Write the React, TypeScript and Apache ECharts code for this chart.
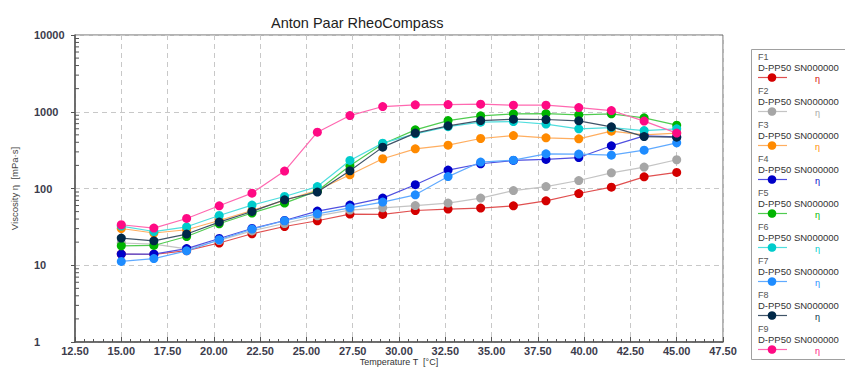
import React, { useEffect, useRef } from 'react';
import * as echarts from 'echarts';

const FONT = '"Liberation Sans", Arial, sans-serif';

const temperatures = [15.0, 16.76, 18.53, 20.29, 22.06, 23.82, 25.59, 27.35, 29.12, 30.88, 32.65, 34.41, 36.18, 37.94, 39.71, 41.47, 43.24, 45.0];

const seriesNames = ['F1', 'F2', 'F3', 'F4', 'F5', 'F6', 'F7', 'F8', 'F9'];

const f1 = [14, 13.8, 15.5, 19.5, 25.7, 32, 38, 46.4, 45.9, 51.7, 53.9, 55.6, 59.5, 69, 86, 104, 142, 162];
const f2 = [19.5, 18.8, 16.3, 21, 28, 35, 44, 52.3, 56, 60, 64.5, 75, 94, 106, 127, 160, 190, 237];
const f3 = [30.1, 26.3, 29, 38.3, 51.7, 70, 95, 151, 244, 329, 367, 448, 490, 457, 444, 558, 500, 527];
const f4 = [14, 14, 16.5, 22.3, 30.1, 38.3, 50.8, 60.8, 75, 112, 174, 210, 232, 239, 253, 360, 485, 470];
const f5 = [17.9, 18.1, 23.7, 34.7, 47.9, 64.5, 93, 198, 380, 581, 768, 885, 939, 948, 912, 939, 833, 669];
const f6 = [32.4, 27.5, 31.7, 44.5, 60.8, 78.7, 106, 232, 390, 515, 640, 732, 746, 690, 599, 620, 569, 599];
const f7 = [11.2, 12.2, 15.4, 21.5, 29.6, 38, 46.8, 56, 66.5, 82.8, 143, 221, 234, 283, 281, 272, 316, 394];
const f8 = [22.6, 20.8, 25.5, 36.5, 50.2, 71.3, 89.8, 170, 346, 527, 655, 768, 801, 792, 761, 636, 475, 467];
const f9 = [33.7, 30.5, 40.7, 59.5, 87, 168.6, 542, 892, 1169, 1230, 1242, 1256, 1219, 1219, 1135, 1037, 755, 527];

const allSeries = [f1, f2, f3, f4, f5, f6, f7, f8, f9];

const markerColors = ['#d40000', '#a6a6a6', '#ff8a00', '#0000c8', '#00b400', '#00cccc', '#1e8cff', '#002848', '#ff0a84'];
const lineColors = ['#e05050', '#c4c4c4', '#ffae60', '#5050e0', '#50cc50', '#50dede', '#60aaff', '#405468', '#ff68b0'];

const legendSubtitle = 'D-PP50 SN000000';

const yMinorTickValues = [
  2, 3, 4, 5, 6, 7, 8, 9,
  20, 30, 40, 50, 60, 70, 80, 90,
  200, 300, 400, 500, 600, 700, 800, 900,
  2000, 3000, 4000, 5000, 6000, 7000, 8000, 9000,
];

export default function App() {
  const ref = useRef<HTMLDivElement>(null);

  useEffect(() => {
    const chart = echarts.init(ref.current!, null, { renderer: 'svg' });

    const lineSeries = allSeries.map((vals, i) => ({
      name: seriesNames[i],
      type: 'line',
      data: temperatures.map((t, j) => [t, vals[j]]),
      symbol: 'circle',
      symbolSize: 9,
      itemStyle: { color: markerColors[i] },
      lineStyle: { color: lineColors[i], width: 1.2 },
      z: 3 + i,
    }));

    const minorTickSeries = {
      type: 'custom',
      silent: true,
      clip: false,
      z: 2,
      data: yMinorTickValues.map((v) => [12.5, v]),
      renderItem: (params: any, api: any) => {
        const p = api.coord([api.value(0), api.value(1)]);
        return {
          type: 'line',
          shape: { x1: p[0], y1: p[1], x2: p[0] + 4, y2: p[1] },
          style: { stroke: '#555', lineWidth: 1 },
        };
      },
    };

    const graphics: any[] = [
      {
        type: 'rect',
        shape: { x: 751.5, y: 49.5, width: 100, height: 310 },
        style: { fill: '#fff', stroke: '#a0a0a0', lineWidth: 1 },
        z: 0,
      },
    ];
    seriesNames.forEach((name, i) => {
      const by = 59 + i * 34;
      graphics.push(
        {
          type: 'text',
          x: 758,
          y: by - 2,
          style: { text: name, fontSize: 9, fill: '#555', fontFamily: FONT, verticalAlign: 'middle' },
        },
        {
          type: 'text',
          x: 758,
          y: by + 8.5,
          style: { text: legendSubtitle, fontSize: 9.5, fill: '#333', fontFamily: FONT, verticalAlign: 'middle' },
        },
        {
          type: 'line',
          shape: { x1: 758, y1: by + 18.5, x2: 787, y2: by + 18.5 },
          style: { stroke: lineColors[i], lineWidth: 1.2 },
        },
        {
          type: 'circle',
          shape: { cx: 772, cy: by + 18.5, r: 4.3 },
          style: { fill: markerColors[i] },
        },
        {
          type: 'text',
          x: 815,
          y: by + 19.5,
          style: { text: 'η', fontSize: 9, fill: markerColors[i], fontFamily: FONT, verticalAlign: 'middle' },
        }
      );
    });

    chart.setOption({
      animation: false,
      backgroundColor: '#fff',
      textStyle: { fontFamily: FONT },
      title: {
        text: 'Anton Paar RheoCompass',
        left: 266,
        top: 10,
        textStyle: { fontSize: 14.5, fontWeight: 'normal', color: '#222', fontFamily: FONT },
      },
      grid: {
        left: 75,
        right: 122,
        top: 35,
        bottom: 26,
        show: true,
        borderColor: '#666',
        borderWidth: 1,
        containLabel: false,
        outerBoundsMode: 'none',
      },
      xAxis: {
        type: 'value',
        min: 12.5,
        max: 47.5,
        interval: 2.5,
        name: 'Temperature T  [°C]',
        nameLocation: 'middle',
        nameGap: 15.5,
        nameMoveOverlap: false,
        nameTextStyle: { fontSize: 9, color: '#333', fontFamily: FONT, verticalAlign: 'top' },
        axisLine: { show: true, onZero: false, lineStyle: { color: '#555', width: 1.5 } },
        axisTick: { show: true, inside: true, length: 5, lineStyle: { color: '#555' } },
        minorTick: { show: true, splitNumber: 5, length: 3, lineStyle: { color: '#555' } },
        axisLabel: {
          formatter: (v: number) => v.toFixed(2),
          fontSize: 11,
          fontWeight: 'bold',
          color: '#3c3c4c',
          margin: 3,
          fontFamily: FONT,
        },
        splitLine: { show: true, lineStyle: { color: '#c8c8c8', type: [5, 4], width: 1 } },
      },
      yAxis: {
        type: 'log',
        logBase: 10,
        min: 1,
        max: 10000,
        name: 'Viscosity η  [mPa·s]',
        nameLocation: 'middle',
        nameGap: 56,
        nameMoveOverlap: false,
        nameTextStyle: { fontSize: 9.5, color: '#444', fontFamily: FONT },
        axisLine: { show: true, lineStyle: { color: '#555', width: 1.5 } },
        axisTick: { show: true, length: 4, lineStyle: { color: '#555' } },
        axisLabel: {
          formatter: (v: number) => String(Math.round(v)),
          fontSize: 11,
          fontWeight: 'bold',
          color: '#3c3c4c',
          align: 'left',
          margin: 41,
          fontFamily: FONT,
        },
        splitLine: { show: true, lineStyle: { color: '#c8c8c8', type: [5, 4], width: 1 } },
      },
      series: [minorTickSeries, ...lineSeries],
      graphic: graphics,
    });

    return () => chart.dispose();
  }, []);

  return <div ref={ref} style={{ position: 'fixed', left: 0, top: 0, width: 845, height: 368 }} />;
}
